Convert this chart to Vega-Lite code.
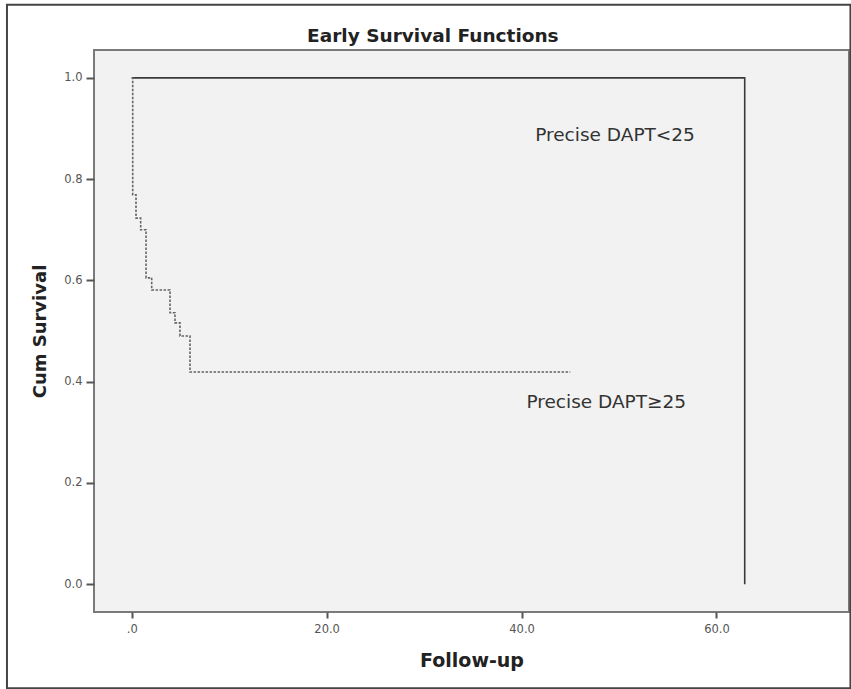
{
  "$schema": "https://vega.github.io/schema/vega-lite/v6.json",
  "width": 755,
  "height": 562,
  "autosize": {"type": "none"},
  "padding": {"left": 94, "top": 50, "right": 2, "bottom": 77},
  "background": "white",
  "config": {
    "view": {"stroke": "#7a7a7a", "strokeWidth": 2, "fill": "#f2f2f2"},
    "axis": {"grid": false, "domain": false, "tickColor": "#555", "tickWidth": 2, "labelColor": "#555", "labelFont": "DejaVu Sans", "labelFontSize": 11.5, "titleFont": "DejaVu Sans", "titleFontSize": 18, "titleFontWeight": "bold", "titleColor": "#222"}
  },
  "datasets": {
    "curves": [
      {"group": "Precise DAPT<25", "time": 0, "surv": 1.0, "ord": 0},
      {"group": "Precise DAPT<25", "time": 62.9, "surv": 0.0, "ord": 1},
      {"group": "Precise DAPT≥25", "time": 0, "surv": 1.0, "ord": 0},
      {"group": "Precise DAPT≥25", "time": 0.1, "surv": 0.769, "ord": 1},
      {"group": "Precise DAPT≥25", "time": 0.44, "surv": 0.723, "ord": 2},
      {"group": "Precise DAPT≥25", "time": 0.92, "surv": 0.70, "ord": 3},
      {"group": "Precise DAPT≥25", "time": 1.47, "surv": 0.605, "ord": 4},
      {"group": "Precise DAPT≥25", "time": 2.05, "surv": 0.581, "ord": 5},
      {"group": "Precise DAPT≥25", "time": 3.93, "surv": 0.536, "ord": 6},
      {"group": "Precise DAPT≥25", "time": 4.44, "surv": 0.516, "ord": 7},
      {"group": "Precise DAPT≥25", "time": 4.95, "surv": 0.49, "ord": 8},
      {"group": "Precise DAPT≥25", "time": 5.98, "surv": 0.419, "ord": 9},
      {"group": "Precise DAPT≥25", "time": 45.0, "surv": 0.419, "ord": 10}
    ],
    "labels": [
      {"label": "Precise DAPT<25", "time": 41.4, "surv": 0.887},
      {"label": "Precise DAPT≥25", "time": 40.5, "surv": 0.36}
    ],
    "titles": [
      {"label": "Early Survival Functions", "time": 30.9, "surv": 1.083}
    ],
    "frame": [
      {"x1": -12.8, "x2": 73.75, "y1": -0.2055, "y2": 1.1443}
    ]
  },
  "layer": [
    {
      "data": {"name": "frame"},
      "mark": {"type": "rect", "fill": null, "stroke": "#444", "strokeWidth": 2, "clip": false},
      "encoding": {
        "x": {"field": "x1", "type": "quantitative", "scale": {"domain": [-3.87, 73.6], "nice": false, "zero": false}},
        "x2": {"field": "x2"},
        "y": {"field": "y1", "type": "quantitative", "scale": {"domain": [-0.055, 1.055], "nice": false, "zero": false}},
        "y2": {"field": "y2"}
      }
    },
    {
      "data": {"name": "curves"},
      "mark": {"type": "line", "interpolate": "step-after", "strokeWidth": 1.6},
      "encoding": {
        "x": {
          "field": "time", "type": "quantitative",
          "scale": {"domain": [-3.87, 73.6], "nice": false, "zero": false},
          "axis": {"title": "Follow-up", "titleFontSize": 19, "values": [0, 20, 40, 60], "labelExpr": "datum.value == 0 ? '.0' : format(datum.value, '.1f')", "tickSize": 6, "labelPadding": 5, "titlePadding": 17}
        },
        "y": {
          "field": "surv", "type": "quantitative",
          "scale": {"domain": [-0.055, 1.055], "nice": false, "zero": false},
          "axis": {"title": "Cum Survival", "values": [0, 0.2, 0.4, 0.6, 0.8, 1.0], "format": ".1f", "tickSize": 8, "labelPadding": 4, "titlePadding": 14}
        },
        "order": {"field": "ord", "type": "quantitative"},
        "detail": {"field": "group", "type": "nominal"},
        "color": {"field": "group", "type": "nominal", "scale": {"domain": ["Precise DAPT<25", "Precise DAPT≥25"], "range": ["#3a3a3a", "#666666"]}, "legend": null},
        "strokeDash": {"field": "group", "type": "nominal", "scale": {"domain": ["Precise DAPT<25", "Precise DAPT≥25"], "range": [[1, 0], [2.5, 1.5]]}, "legend": null}
      }
    },
    {
      "data": {"name": "labels"},
      "mark": {"type": "text", "align": "left", "baseline": "middle", "font": "DejaVu Sans", "fontSize": 18.5, "color": "#333"},
      "encoding": {
        "x": {"field": "time", "type": "quantitative"},
        "y": {"field": "surv", "type": "quantitative"},
        "text": {"field": "label"}
      }
    },
    {
      "data": {"name": "titles"},
      "mark": {"type": "text", "align": "center", "baseline": "middle", "font": "DejaVu Sans", "fontSize": 18.5, "fontWeight": "bold", "color": "#222", "clip": false},
      "encoding": {
        "x": {"field": "time", "type": "quantitative"},
        "y": {"field": "surv", "type": "quantitative"},
        "text": {"field": "label"}
      }
    }
  ]
}
